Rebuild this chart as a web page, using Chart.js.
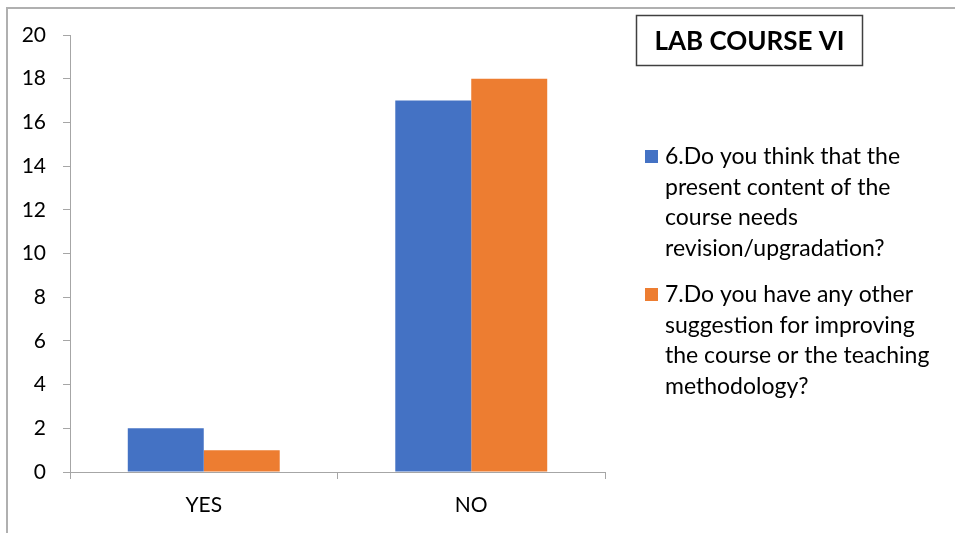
<!DOCTYPE html>
<html lang="en">
<head>
    <meta charset="UTF-8">
    <script src="https://cdn.jsdelivr.net/npm/chart.js"></script>
    <title>LAB COURSE VI</title>
    <style>
        body { margin: 0; background: #fff; }
    </style>
</head>
<body>
    <canvas id="myChart" width="955" height="533"></canvas>

<script>
    // data block
    const categories = ['YES', 'NO'];
    const q6Values = [2, 17];
    const q7Values = [1, 18];
    const q6Lines = ['6.Do you think that the', 'present content of the', 'course needs', 'revision/upgradation?'];
    const q7Lines = ['7.Do you have any other', 'suggestion for improving', 'the course or the teaching', 'methodology?'];
    const chartTitle = 'LAB COURSE VI';
    const yTicksMax = 20;
    const yTicksStep = 2;

    const FONT = 'Lato, "Open Sans", sans-serif';
    const axisGray = '#a6a6a6';

    const data = {
      labels: categories,
      datasets: [{
        label: q6Lines.join(' '),
        data: q6Values,
        backgroundColor: '#4472C4',
        lines: q6Lines
      }, {
        label: q7Lines.join(' '),
        data: q7Values,
        backgroundColor: '#ED7D31',
        lines: q7Lines
      }]
    };

    // frame, title box and wrapped legend
    const decorPlugin = {
      id: 'decor',
      afterDraw(chart) {
        const ctx = chart.ctx;
        ctx.save();

        // outer frame (only left/top visible)
        ctx.strokeStyle = '#b0b0b0';
        ctx.lineWidth = 2;
        ctx.beginPath();
        ctx.moveTo(7, 533);
        ctx.lineTo(7, 8);
        ctx.lineTo(955, 8);
        ctx.stroke();

        // title box
        ctx.strokeStyle = '#404040';
        ctx.lineWidth = 1.5;
        ctx.strokeRect(636.5, 15.5, 226, 50);
        ctx.fillStyle = '#000';
        ctx.font = 'bold 26px ' + FONT;
        ctx.textAlign = 'center';
        ctx.textBaseline = 'middle';
        ctx.fillText(chartTitle, 749.5, 42);

        // legend
        ctx.font = '23px ' + FONT;
        ctx.textAlign = 'left';
        ctx.textBaseline = 'alphabetic';
        const starts = [164, 302];
        chart.data.datasets.forEach((ds, i) => {
          const y0 = starts[i];
          ctx.fillStyle = ds.backgroundColor;
          ctx.fillRect(645, y0 - 14, 13, 13);
          ctx.fillStyle = '#000';
          ds.lines.forEach((line, j) => {
            ctx.fillText(line, 665, y0 + j * 30.5);
          });
        });

        ctx.restore();
      }
    };

    // config block
    const config = {
      type: 'bar',
      data: data,
      plugins: [decorPlugin],
      options: {
        responsive: false,
        animation: false,
        layout: {
          padding: { top: 35, right: 350, left: 0, bottom: 0 }
        },
        datasets: {
          bar: {
            categoryPercentage: 0.568,
            barPercentage: 1.0,
            borderWidth: 0
          }
        },
        plugins: {
          legend: { display: false },
          title: { display: false },
          tooltip: { enabled: false }
        },
        scales: {
          x: {
            grid: {
              display: true,
              drawOnChartArea: false,
              drawTicks: true,
              tickLength: 7,
              color: axisGray,
              offset: true
            },
            border: { color: axisGray, width: 1 },
            ticks: {
              color: '#000',
              font: { family: FONT, size: 21 },
              padding: 14
            },
            afterFit(scale) { scale.height = 61; }
          },
          y: {
            min: 0,
            max: yTicksMax,
            grid: {
              display: true,
              drawOnChartArea: false,
              drawTicks: true,
              tickLength: 7,
              color: axisGray
            },
            border: { color: axisGray, width: 1 },
            ticks: {
              stepSize: yTicksStep,
              color: '#000',
              font: { family: FONT, size: 21 },
              padding: 17
            },
            afterFit(scale) { scale.width = 70; }
          }
        }
      }
    };

    // Render block
    const myChart = new Chart(
      document.getElementById('myChart'),
      config
    );
</script>

</body>
</html>
